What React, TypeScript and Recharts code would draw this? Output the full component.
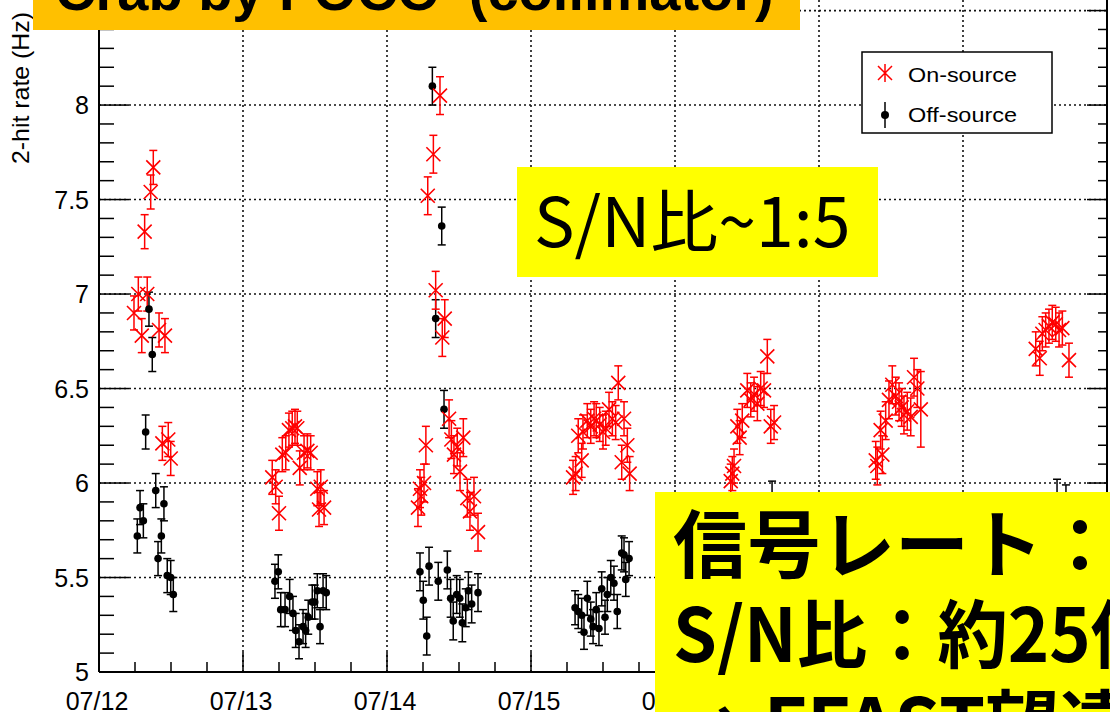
import { ScatterChart, Scatter, XAxis, YAxis, ErrorBar, ReferenceLine } from "recharts";

// [time in days from 07/12 00:00, 2-hit rate (Hz), error (Hz)]
type Pt = [number, number, number];

const ON_0712: Pt[] = [
  [0.243, 6.90, 0.09], [0.273, 7.00, 0.09], [0.297, 6.78, 0.09], [0.317, 7.33, 0.09],
  [0.335, 7.00, 0.09], [0.359, 7.54, 0.09], [0.377, 7.67, 0.09], [0.417, 6.81, 0.09],
  [0.440, 6.21, 0.09], [0.458, 6.78, 0.09], [0.481, 6.23, 0.09], [0.498, 6.13, 0.09],
];
const ON_0713: Pt[] = [
  [1.203, 6.03, 0.09], [1.227, 5.98, 0.09], [1.250, 5.84, 0.09], [1.273, 6.15, 0.09],
  [1.297, 6.16, 0.09], [1.319, 6.28, 0.09], [1.342, 6.29, 0.09], [1.361, 6.30, 0.09],
  [1.377, 6.29, 0.09], [1.394, 6.08, 0.09], [1.424, 6.16, 0.09], [1.447, 6.17, 0.09],
  [1.470, 6.16, 0.09], [1.516, 5.97, 0.09], [1.528, 5.86, 0.09], [1.540, 5.98, 0.09],
  [1.563, 5.87, 0.09],
];
const ON_0714: Pt[] = [
  [2.215, 5.87, 0.1], [2.229, 5.97, 0.1], [2.238, 5.93, 0.1], [2.257, 6.00, 0.1],
  [2.270, 6.20, 0.1], [2.283, 7.52, 0.1], [2.322, 7.74, 0.1], [2.338, 7.02, 0.1],
  [2.368, 8.05, 0.1], [2.384, 6.77, 0.1], [2.401, 6.87, 0.1], [2.431, 6.34, 0.1],
  [2.447, 6.23, 0.1], [2.465, 6.15, 0.1], [2.488, 6.19, 0.1], [2.507, 6.06, 0.1],
  [2.530, 6.24, 0.1], [2.558, 5.92, 0.1], [2.576, 5.85, 0.1], [2.604, 5.93, 0.1],
  [2.632, 5.74, 0.1],
];
const ON_0715: Pt[] = [
  [3.292, 6.03, 0.09], [3.310, 6.05, 0.09], [3.328, 6.25, 0.09], [3.352, 6.12, 0.09],
  [3.361, 6.27, 0.09], [3.391, 6.33, 0.09], [3.415, 6.30, 0.09], [3.438, 6.34, 0.09],
  [3.453, 6.33, 0.09], [3.477, 6.31, 0.09], [3.500, 6.27, 0.09], [3.519, 6.29, 0.09],
  [3.542, 6.39, 0.09], [3.565, 6.34, 0.09], [3.588, 6.32, 0.09], [3.606, 6.53, 0.09],
  [3.630, 6.11, 0.09], [3.646, 6.34, 0.09], [3.669, 6.20, 0.09], [3.685, 6.05, 0.09],
];
const ON_0716: Pt[] = [
  [4.387, 6.01, 0.09], [4.398, 6.05, 0.09], [4.410, 6.09, 0.09], [4.433, 6.30, 0.09],
  [4.449, 6.24, 0.09], [4.467, 6.33, 0.09], [4.502, 6.49, 0.09], [4.526, 6.44, 0.09],
  [4.549, 6.47, 0.09], [4.572, 6.42, 0.09], [4.595, 6.50, 0.09], [4.618, 6.49, 0.09],
  [4.641, 6.67, 0.09], [4.665, 6.30, 0.09], [4.688, 6.32, 0.09],
];
const ON_0717: Pt[] = [
  [5.394, 6.12, 0.1], [5.405, 6.09, 0.1], [5.428, 6.28, 0.1], [5.440, 6.15, 0.1],
  [5.463, 6.33, 0.1], [5.486, 6.44, 0.1], [5.509, 6.52, 0.1], [5.533, 6.46, 0.1],
  [5.556, 6.43, 0.1], [5.574, 6.40, 0.1], [5.590, 6.36, 0.1], [5.613, 6.38, 0.1],
  [5.637, 6.35, 0.1], [5.660, 6.56, 0.1], [5.683, 6.50, 0.1], [5.707, 6.39, 0.2],
];
const ON_0718: Pt[] = [
  [6.505, 6.71, 0.09], [6.533, 6.66, 0.09], [6.551, 6.79, 0.09], [6.574, 6.81, 0.09],
  [6.597, 6.83, 0.09], [6.620, 6.85, 0.09], [6.644, 6.84, 0.09], [6.667, 6.81, 0.09],
  [6.690, 6.82, 0.09], [6.736, 6.65, 0.09],
];

const OFF_0712: Pt[] = [
  [0.266, 5.72, 0.09], [0.285, 5.87, 0.09], [0.308, 5.80, 0.09], [0.324, 6.27, 0.09],
  [0.347, 6.92, 0.09], [0.370, 6.68, 0.09], [0.394, 5.96, 0.09], [0.410, 5.60, 0.09],
  [0.433, 5.72, 0.09], [0.451, 5.89, 0.09], [0.474, 5.51, 0.09], [0.498, 5.50, 0.09],
  [0.516, 5.41, 0.09],
];
const OFF_0713: Pt[] = [
  [1.222, 5.48, 0.09], [1.245, 5.53, 0.09], [1.262, 5.33, 0.09], [1.292, 5.33, 0.09],
  [1.324, 5.40, 0.09], [1.347, 5.31, 0.09], [1.366, 5.22, 0.09], [1.389, 5.16, 0.09],
  [1.417, 5.24, 0.09], [1.435, 5.22, 0.09], [1.453, 5.29, 0.09], [1.481, 5.37, 0.09],
  [1.498, 5.37, 0.09], [1.516, 5.43, 0.09], [1.535, 5.24, 0.09], [1.556, 5.43, 0.09],
  [1.578, 5.42, 0.09],
];
const OFF_0714: Pt[] = [
  [2.229, 5.53, 0.1], [2.252, 5.38, 0.1], [2.276, 5.19, 0.1], [2.292, 5.56, 0.1],
  [2.315, 8.10, 0.1], [2.338, 6.87, 0.1], [2.356, 5.48, 0.1], [2.380, 7.36, 0.1],
  [2.396, 6.39, 0.1], [2.419, 5.54, 0.1], [2.442, 5.39, 0.1], [2.460, 5.27, 0.1],
  [2.484, 5.41, 0.1], [2.505, 5.39, 0.1], [2.523, 5.26, 0.1], [2.547, 5.34, 0.1],
  [2.565, 5.43, 0.1], [2.588, 5.36, 0.1], [2.632, 5.42, 0.1],
];
const OFF_0715: Pt[] = [
  [3.306, 5.34, 0.09], [3.328, 5.32, 0.09], [3.352, 5.30, 0.09], [3.368, 5.21, 0.09],
  [3.391, 5.39, 0.09], [3.415, 5.28, 0.09], [3.431, 5.24, 0.09], [3.453, 5.33, 0.09],
  [3.472, 5.23, 0.09], [3.491, 5.44, 0.09], [3.514, 5.29, 0.09], [3.530, 5.41, 0.09],
  [3.554, 5.50, 0.09], [3.576, 5.47, 0.09], [3.599, 5.32, 0.09], [3.630, 5.63, 0.09],
  [3.646, 5.62, 0.09], [3.658, 5.49, 0.09], [3.681, 5.60, 0.09],
];
// later nights: only the tops of a few error bars show above the yellow box
const OFF_LATER: Pt[] = [
  [4.674, 5.92, 0.09], [6.653, 5.93, 0.09], [6.715, 5.90, 0.09],
];

const DAY_LABELS = ["07/12", "07/13", "07/14", "07/15", "07/16", "07/17", "07/18", "07/19"];
const GRID_DAYS = [1, 2, 3, 4, 5, 6];
const GRID_RATES = [5.5, 6, 6.5, 7, 7.5, 8, 8.5];
const X_TICKS = Array.from({ length: 29 }, (_, i) => i * 0.25);
const Y_TICKS = Array.from({ length: 36 }, (_, i) => +(5 + i * 0.1).toFixed(1));

const toRows = (pts: Pt[]) => pts.map(([t, v, e]) => ({ t, v, e }));
const onData = toRows([...ON_0712, ...ON_0713, ...ON_0714, ...ON_0715, ...ON_0716, ...ON_0717, ...ON_0718]);
const offData = toRows([...OFF_0712, ...OFF_0713, ...OFF_0714, ...OFF_0715, ...OFF_LATER]);

const RED = "#ff0000";
const AXIS_FONT = "'Liberation Sans', Arial, sans-serif";
const JP_FONT = "'Noto Sans CJK JP', sans-serif";

const isMajor = (v: number, step: number) => Math.abs(v / step - Math.round(v / step)) < 1e-6;

const XTick = (p: any) => {
  const { x, y, payload } = p;
  const major = isMajor(payload.value, 1);
  return (
    <g>
      <line x1={x} x2={x} y1={y} y2={y - (major ? 20 : 10)} stroke="#000" strokeWidth={1.5} />
      {major && (
        <text x={x - 2} y={y + 38} textAnchor="middle" fontSize={25} fontFamily={AXIS_FONT} fill="#000">
          {DAY_LABELS[Math.round(payload.value)]}
        </text>
      )}
    </g>
  );
};

const YTickLeft = (p: any) => {
  const { x, y, payload } = p;
  const major = isMajor(payload.value, 0.5);
  return (
    <g>
      <line x1={x} x2={x + (major ? 30 : 15)} y1={y} y2={y} stroke="#000" strokeWidth={1.5} />
      {major && (
        <text x={x - 10} y={y} dy="0.36em" textAnchor="end" fontSize={25} fontFamily={AXIS_FONT} fill="#000">
          {payload.value}
        </text>
      )}
    </g>
  );
};

const YTickRight = (p: any) => {
  const { x, y, payload } = p;
  const major = isMajor(payload.value, 0.5);
  return <line x1={x} x2={x - (major ? 20 : 9)} y1={y} y2={y} stroke="#000" strokeWidth={1.5} />;
};

const Cross = (p: any) => {
  const { cx, cy } = p;
  const s = 7;
  return (
    <path
      d={`M${cx - s},${cy - s}L${cx + s},${cy + s}M${cx - s},${cy + s}L${cx + s},${cy - s}`}
      stroke={RED}
      strokeWidth={1.6}
      fill="none"
    />
  );
};

const Dot = (p: any) => <circle cx={p.cx} cy={p.cy} r={3.8} fill="#000" />;

export default function App() {
  return (
    <div style={{ position: "fixed", left: 0, top: 0, width: 1110, height: 712, overflow: "hidden", background: "#fff" }}>
      <ScatterChart width={1110} height={712} margin={{ top: 0, right: 0, bottom: 0, left: 0 }}>
        <XAxis
          type="number"
          dataKey="t"
          domain={[0, 7]}
          ticks={X_TICKS}
          interval={0}
          tick={XTick}
          tickLine={false}
          tickSize={0}
          tickMargin={0}
          height={40}
          axisLine={{ stroke: "#000", strokeWidth: 2 }}
          allowDataOverflow
        />
        <YAxis
          yAxisId="l"
          type="number"
          dataKey="v"
          domain={[5, 8.556]}
          ticks={Y_TICKS}
          interval={0}
          tick={YTickLeft}
          tickLine={false}
          tickSize={0}
          tickMargin={0}
          width={99}
          axisLine={{ stroke: "#000", strokeWidth: 2 }}
          allowDataOverflow
        />
        <YAxis
          yAxisId="r"
          orientation="right"
          type="number"
          domain={[5, 8.556]}
          ticks={Y_TICKS}
          interval={0}
          tick={YTickRight}
          tickLine={false}
          tickSize={0}
          tickMargin={0}
          width={3}
          axisLine={{ stroke: "#000", strokeWidth: 2 }}
          allowDataOverflow
        />

        {/* dotted grid on the major ticks */}
        {GRID_DAYS.map((d) => (
          <ReferenceLine key={"gx" + d} yAxisId="l" x={d} stroke="#111" strokeWidth={1.6} strokeDasharray="2 3" />
        ))}
        {GRID_RATES.map((r) => (
          <ReferenceLine key={"gy" + r} yAxisId="l" y={r} stroke="#111" strokeWidth={1.6} strokeDasharray="2 3" />
        ))}

        <Scatter name="Off-source" yAxisId="l" data={offData} shape={Dot} isAnimationActive={false}>
          <ErrorBar dataKey="e" direction="y" width={4} stroke="#000" strokeWidth={1.5} />
        </Scatter>
        <Scatter name="On-source" yAxisId="l" data={onData} shape={Cross} isAnimationActive={false}>
          <ErrorBar dataKey="e" direction="y" width={4} stroke={RED} strokeWidth={1.5} />
        </Scatter>
      </ScatterChart>

      {/* axis title, legend and slide call-outs */}
      <svg width={1110} height={712} style={{ position: "absolute", left: 0, top: 0, pointerEvents: "none" }}>
        <text
          transform="translate(29,88) rotate(-90)"
          textAnchor="middle"
          fontSize={24}
          fontFamily={AXIS_FONT}
          fill="#000"
          textLength={152}
          lengthAdjust="spacingAndGlyphs"
        >
          2-hit rate (Hz)
        </text>

        <rect x={862} y={52} width={190} height={81} fill="#fff" stroke="#000" strokeWidth={1.5} />
        <path d="M878,66L892,80M878,80L892,66M885,64L885,82" stroke={RED} strokeWidth={1.5} fill="none" />
        <text x={908} y={82} fontSize={21} fontFamily={AXIS_FONT} fill="#000" textLength={109} lengthAdjust="spacingAndGlyphs">
          On-source
        </text>
        <line x1={885} x2={885} y1={102} y2={128} stroke="#000" strokeWidth={1.5} />
        <circle cx={885} cy={115} r={4} fill="#000" />
        <text x={908} y={122} fontSize={21} fontFamily={AXIS_FONT} fill="#000" textLength={109} lengthAdjust="spacingAndGlyphs">
          Off-source
        </text>

        <rect x={33} y={-20} width={767} height={50} fill="#ffc000" />
        <text x={55} y={10} fontSize={56} fontWeight={700} fontFamily={AXIS_FONT} fill="#000" style={{ whiteSpace: "pre" }}>
          {"Crab by FOCC  (collimator)"}
        </text>

        <rect x={517} y={167} width={361} height={110} fill="#ffff00" />
        <text x={534} y={247} fontSize={68} fontFamily={JP_FONT} fill="#000">S/N比~1:5</text>

        <rect x={655} y={492} width={470} height={240} fill="#ffff00" />
        <g fontSize={74} fontWeight={700} fontFamily={JP_FONT} fill="#000">
          <text x={673} y={572}>信号レート：</text>
          <text x={673} y={662} textLength={488} lengthAdjust="spacingAndGlyphs">S/N比：約25倍</text>
          <text x={673} y={752}>→ FFAST望遠鏡</text>
        </g>
      </svg>
    </div>
  );
}
